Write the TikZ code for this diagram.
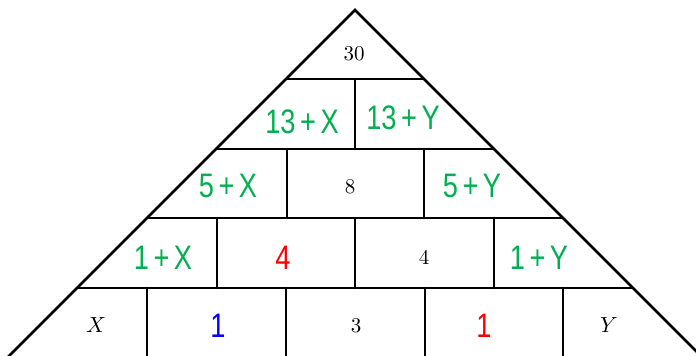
\documentclass[tikz,border=0pt]{standalone}
\usepackage{fontspec}
\newfontfamily\handfont{Liberation Sans}
\definecolor{hgreen}{RGB}{0,176,80}
\definecolor{hblue}{RGB}{0,0,255}
\definecolor{hred}{RGB}{255,0,0}
\tikzset{
  wall/.style={line width=1.3pt, line cap=round},
  printed/.style={inner sep=0pt, font=\fontsize{10.5}{12}\selectfont},
  hand/.style={inner sep=0pt, font=\handfont\fontsize{17}{18}\selectfont},
}
\newcommand{\hw}[1]{\scalebox{0.8}[1]{#1}}
\begin{document}
\begin{tikzpicture}[x=0.5pt,y=-0.5pt]
\useasboundingbox (0,0) rectangle (696,355);
\begin{scope}
\clip (0,0) rectangle (696,355);
% outer triangle
\coordinate (apex) at (355,10);
\coordinate (bl) at (0,365);
\coordinate (br) at (710,365);
\draw[wall] (bl) -- (apex) -- (br);
% horizontal rows
\draw[wall] (286.3,79) -- (423.7,79);
\draw[wall] (216.6,149) -- (493.4,149);
\draw[wall] (147.4,218) -- (562.6,218);
\draw[wall] (77.3,288) -- (632.7,288);
% verticals
\draw[wall] (355,79) -- (355,149);
\draw[wall] (287,149) -- (287,218);
\draw[wall] (424,149) -- (424,218);
\draw[wall] (217,218) -- (217,288);
\draw[wall] (355,218) -- (355,288);
\draw[wall] (494,218) -- (494,288);
\draw[wall] (147,288) -- (147,360);
\draw[wall] (286,288) -- (286,360);
\draw[wall] (425,288) -- (425,360);
\draw[wall] (563,288) -- (563,360);
\end{scope}
% labels
\node[printed] (n30) at (354,54) {30};
\node[hand, text=hgreen] (n13x) at (302,122) {\hw{13\,+\,X}};
\node[hand, text=hgreen] (n13y) at (403,118) {\hw{13\,+\,Y}};
\node[hand, text=hgreen] (n5x) at (228,186) {\hw{5\,+\,X}};
\node[printed] (n8) at (350,187) {8};
\node[hand, text=hgreen] (n5y) at (472,186) {\hw{5\,+\,Y}};
\node[hand, text=hgreen] (n1x) at (163,258) {\hw{1\,+\,X}};
\node[hand, text=hred] (n4r) at (283,258) {\hw{4}};
\node[printed] (n4) at (424,257) {4};
\node[hand, text=hgreen] (n1y) at (539,258) {\hw{1\,+\,Y}};
\node[printed] (nX) at (96,325) {$X$};
\node[hand, text=hblue] (n1b) at (218,326) {\hw{1}};
\node[printed] (n3) at (356,326) {3};
\node[hand, text=hred] (n1r) at (484,326) {\hw{1}};
\node[printed] (nY) at (609,325) {$Y$};
\end{tikzpicture}
\end{document}
